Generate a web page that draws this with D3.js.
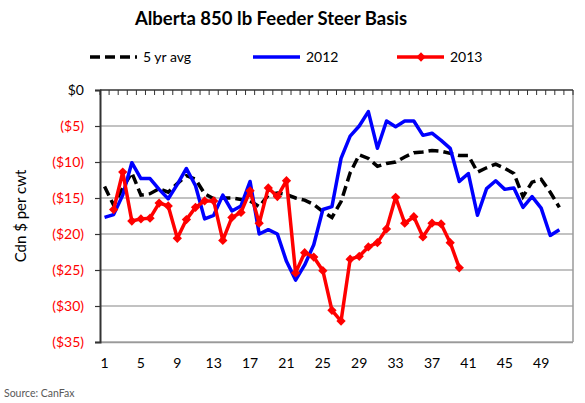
<!DOCTYPE html>
<html><head><meta charset="utf-8">
<script src="https://cdn.jsdelivr.net/npm/d3@7"></script>
<style>
body{margin:0;background:#fff;}
svg{display:block;font-family:Lato,"Open Sans",sans-serif;}
</style></head>
<body>
<svg id="c" width="585" height="403"></svg>
<script>
const weeks = d3.range(1, 53);
const xTickLabels = [1,5,9,13,17,21,25,29,33,37,41,45,49];
const yTicks = [0,-5,-10,-15,-20,-25,-30,-35];
const seriesNames = ["5 yr avg","2012","2013"];
const avg5 = [-13.4,-16.0,-13.6,-11.5,-14.6,-14.4,-13.7,-14.2,-13.0,-11.9,-12.4,-14.4,-15.1,-15.0,-15.0,-15.2,-15.4,-16.2,-14.6,-14.3,-14.5,-15.0,-15.3,-15.9,-16.9,-17.7,-15.5,-11.5,-9.0,-9.5,-10.6,-10.2,-10.0,-9.3,-8.7,-8.6,-8.4,-8.5,-8.8,-9.1,-9.1,-11.4,-10.8,-10.3,-10.9,-11.6,-14.8,-12.8,-12.4,-14.2,-16.3];
const y2012 = [-17.7,-17.3,-14.6,-10.1,-12.3,-12.3,-13.8,-15.1,-13.1,-10.9,-13.3,-17.9,-17.4,-14.6,-16.8,-16.1,-12.7,-20.0,-19.4,-20.0,-23.8,-26.4,-24.3,-21.5,-16.6,-16.2,-9.5,-6.4,-5.0,-3.0,-8.1,-4.3,-5.1,-4.3,-4.3,-6.3,-6.0,-7.0,-8.1,-12.7,-11.6,-17.4,-13.7,-12.6,-13.8,-13.6,-16.3,-14.8,-16.4,-20.2,-19.4];
const y2013 = [null,-16.6,-11.4,-18.2,-17.9,-17.8,-15.7,-16.1,-20.6,-18.0,-16.3,-15.4,-15.4,-20.9,-17.7,-17.0,-14.0,-18.5,-13.6,-14.8,-12.6,-25.4,-22.6,-23.2,-25.1,-30.6,-32.1,-23.5,-23.1,-21.8,-21.2,-19.3,-14.9,-18.5,-17.6,-20.4,-18.5,-18.6,-21.2,-24.7];

const svg = d3.select("#c");
const L=100,R=573,T=90,B=342;
const x = d3.scaleBand().domain(weeks).range([L,R]).padding(0);
const y = d3.scaleLinear().domain([-35,0]).range([B,T]);
const cx = w => x(w) + x.bandwidth()/2;

// gridlines
svg.append("g").selectAll("line").data(yTicks.filter(v=>v!==0)).join("line")
  .attr("x1",L).attr("x2",R).attr("y1",d=>y(d)).attr("y2",d=>y(d))
  .attr("stroke","#868686").attr("stroke-width",1.2);
// right / bottom border
svg.append("line").attr("x1",R).attr("x2",R).attr("y1",T).attr("y2",B).attr("stroke","#9a9a9a").attr("stroke-width",1.5);
svg.append("line").attr("x1",L).attr("x2",R).attr("y1",B+0.5).attr("y2",B+0.5).attr("stroke","#9a9a9a").attr("stroke-width",1.5);

// y axis
const fmt = v => v===0 ? "$0" : "($" + Math.abs(v) + ")";
const ya = svg.append("g").attr("transform",`translate(${L},0)`)
  .call(d3.axisLeft(y).tickValues(yTicks).tickSize(5).tickFormat(fmt));
ya.select(".domain").attr("stroke","#333").attr("stroke-width",2);
ya.selectAll(".tick line").attr("stroke","#333").attr("stroke-width",1.2);
ya.selectAll(".tick text").attr("font-size",14).attr("font-family","Lato,sans-serif")
  .attr("x",-16).attr("fill",d=>d===0?"#000":"#ff0000");

// top category axis (ticks between categories)
const boundaries = d3.range(0,53).map(i=> i<52 ? x(weeks[i]) : R);
svg.append("line").attr("x1",L).attr("x2",R).attr("y1",T).attr("y2",T).attr("stroke","#333").attr("stroke-width",1.5);
svg.append("g").selectAll("line").data(boundaries).join("line")
  .attr("x1",d=>d).attr("x2",d=>d).attr("y1",T).attr("y2",T+5)
  .attr("stroke","#333").attr("stroke-width",1);

// x labels at bottom
svg.append("g").selectAll("text").data(xTickLabels).join("text")
  .attr("x",d=>cx(d)).attr("y",368).attr("text-anchor","middle")
  .attr("font-size",14).attr("fill","#000").text(d=>d);

// y title
svg.append("text").attr("transform",`translate(26,${(T+B)/2}) rotate(-90)`)
  .attr("text-anchor","middle").attr("font-size",15).text("Cdn $ per cwt");

// title
svg.append("text").attr("x",271).attr("y",25).attr("text-anchor","middle")
  .attr("font-size",18.5).attr("font-weight","bold").text("Alberta 850 lb Feeder Steer Basis");

// source
svg.append("text").attr("x",4).attr("y",397).attr("font-size",10.5).attr("fill","#595959").text("Source: CanFax");

// lines
const line = d3.line().defined(d=>d.v!=null).x(d=>cx(d.w)).y(d=>y(d.v));
const toPts = arr => arr.map((v,i)=>({w:weeks[i],v}));
svg.append("path").datum(toPts(avg5)).attr("d",line).attr("fill","none")
  .attr("stroke","#000").attr("stroke-width",3.5).attr("stroke-dasharray","10,5");
svg.append("path").datum(toPts(y2012)).attr("d",line).attr("fill","none")
  .attr("stroke","#0000ff").attr("stroke-width",3.5).attr("stroke-linejoin","round");
svg.append("path").datum(toPts(y2013)).attr("d",line).attr("fill","none")
  .attr("stroke","#ff0000").attr("stroke-width",3.5).attr("stroke-linejoin","round");
const diamond = d3.symbol().type(d3.symbolDiamond2).size(55);
svg.append("g").selectAll("path").data(toPts(y2013).filter(d=>d.v!=null)).join("path")
  .attr("transform",d=>`translate(${cx(d.w)},${y(d.v)})`).attr("d",diamond).attr("fill","#ff0000");

// legend
const lg = svg.append("g");
const legendItems = [
  {name:seriesNames[0], x1:90, color:"#000", dash:"10,5"},
  {name:seriesNames[1], x1:253, color:"#0000ff", dash:null},
  {name:seriesNames[2], x1:397, color:"#ff0000", dash:null, marker:true}
];
legendItems.forEach(it=>{
  lg.append("line").attr("x1",it.x1).attr("x2",it.x1+47).attr("y1",57).attr("y2",57)
    .attr("stroke",it.color).attr("stroke-width",3.5).attr("stroke-dasharray",it.dash);
  if(it.marker) lg.append("path").attr("transform",`translate(${it.x1+24},57)`).attr("d",diamond).attr("fill",it.color);
  lg.append("text").attr("x",it.x1+53).attr("y",62).attr("font-size",14).text(it.name);
});
</script>
</body></html>
